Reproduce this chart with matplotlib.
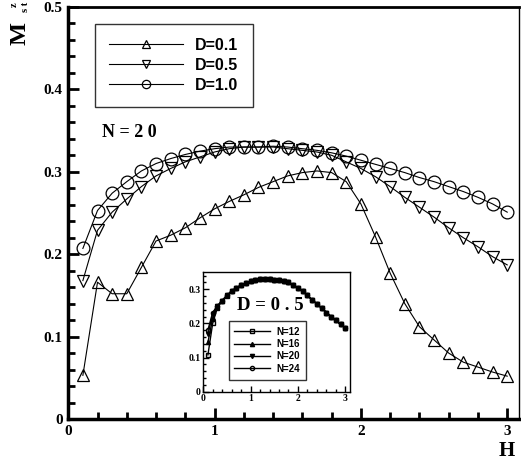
import matplotlib
matplotlib.use("Agg")
import matplotlib.pyplot as plt
from matplotlib.ticker import MultipleLocator, FormatStrFormatter

H = [round(0.1 * i, 1) for i in range(1, 31)]

d01 = [0.053, 0.166, 0.152, 0.152, 0.184, 0.216, 0.223, 0.232, 0.244, 0.255,
       0.264, 0.272, 0.281, 0.288, 0.295, 0.299, 0.301, 0.299, 0.288, 0.261,
       0.221, 0.177, 0.140, 0.112, 0.096, 0.080, 0.069, 0.063, 0.057, 0.052]
d05 = [0.168, 0.229, 0.251, 0.267, 0.282, 0.295, 0.304, 0.312, 0.318, 0.324,
       0.328, 0.330, 0.330, 0.330, 0.328, 0.326, 0.324, 0.320, 0.312, 0.304,
       0.294, 0.282, 0.269, 0.257, 0.245, 0.232, 0.220, 0.209, 0.197, 0.187]
d10 = [0.207, 0.253, 0.274, 0.288, 0.301, 0.310, 0.316, 0.321, 0.325, 0.328,
       0.330, 0.330, 0.330, 0.331, 0.330, 0.328, 0.326, 0.323, 0.319, 0.314,
       0.309, 0.304, 0.299, 0.293, 0.288, 0.282, 0.276, 0.269, 0.261, 0.251]

n12 = [0.108, 0.200, 0.246, 0.266, 0.281, 0.294, 0.304, 0.312, 0.318, 0.324,
       0.328, 0.330, 0.330, 0.330, 0.328, 0.326, 0.324, 0.320, 0.312, 0.304,
       0.294, 0.282, 0.269, 0.257, 0.245, 0.232, 0.220, 0.209, 0.197, 0.187]
n16 = [0.145, 0.215, 0.249, 0.267, 0.282, 0.295, 0.304, 0.312, 0.318, 0.324,
       0.328, 0.330, 0.330, 0.330, 0.328, 0.326, 0.324, 0.320, 0.312, 0.304,
       0.294, 0.282, 0.269, 0.257, 0.245, 0.232, 0.220, 0.209, 0.197, 0.187]
n20 = d05
n24 = [0.181, 0.232, 0.252, 0.267, 0.282, 0.295, 0.304, 0.312, 0.318, 0.324,
       0.328, 0.330, 0.330, 0.330, 0.328, 0.326, 0.324, 0.320, 0.312, 0.304,
       0.294, 0.282, 0.269, 0.257, 0.245, 0.232, 0.220, 0.209, 0.197, 0.187]

serif = 'Liberation Serif'
sans = 'Liberation Sans'

fig = plt.figure(figsize=(5.21, 4.63), dpi=100)
ax = fig.add_axes([0.131, 0.095, 0.865, 0.890])

mk = dict(color='black', linewidth=0.8, markerfacecolor='none',
          markeredgecolor='black', markeredgewidth=0.9, markersize=9.2)
ax.plot(H, d01, marker='^', label='D=0.1', **mk)
ax.plot(H, d05, marker='v', label='D=0.5', **mk)
ax.plot(H, d10, marker='o', label='D=1.0', **mk)

ax.set_xlim(0, 3.08)
ax.set_ylim(0, 0.5)
ax.xaxis.set_major_locator(MultipleLocator(1))
ax.xaxis.set_minor_locator(MultipleLocator(0.2))
ax.yaxis.set_major_locator(MultipleLocator(0.1))
ax.yaxis.set_minor_locator(MultipleLocator(0.02))
ax.xaxis.set_major_formatter(FormatStrFormatter('%g'))
ax.yaxis.set_major_formatter(FormatStrFormatter('%g'))
ax.tick_params(which='both', direction='in', top=False, right=False, width=2, color='black')
ax.tick_params(which='major', length=8)
ax.tick_params(which='minor', length=5)
ax.tick_params(axis='both', labelsize=11, pad=4)
for lab in ax.get_xticklabels() + ax.get_yticklabels():
    lab.set_fontfamily(serif)
    lab.set_fontweight('bold')
ax.spines['left'].set_linewidth(2.5)
ax.spines['bottom'].set_linewidth(2.5)
ax.spines['top'].set_linewidth(2.0)
ax.spines['right'].set_linewidth(1.0)

leg = ax.legend(loc='upper left', bbox_to_anchor=(0.041, 0.979), frameon=True, fancybox=False,
                edgecolor='black', handlelength=4.6, borderpad=0.9, labelspacing=0.3,
                handletextpad=0.8, markerscale=0.65,
                prop={'family': sans, 'weight': 'bold', 'size': 11.5})
leg.get_frame().set_linewidth(1.0)

ax.text(0.23, 0.348, 'N = 2 0', fontfamily=serif, fontweight='bold', fontsize=13,
        ha='left', va='center')

fig.text(0.988, 0.025, 'H', fontfamily=serif, fontweight='bold', fontsize=15,
         ha='right', va='center')
# y label  M^z_{st}, rotated
fig.text(0.0384, 0.928, 'M', rotation=90, fontfamily=serif, fontweight='bold',
         fontsize=17.5, ha='center', va='center')
fig.text(0.027, 0.989, 'z', rotation=90, fontfamily=serif, fontweight='bold',
         fontsize=7.5, ha='center', va='center')
fig.text(0.049, 0.984, 's t', rotation=90, fontfamily=serif, fontweight='bold',
         fontsize=7.5, ha='center', va='center')

# inset
ins = fig.add_axes([0.390, 0.154, 0.282, 0.258])
imk = dict(color='black', linewidth=1.0, markeredgecolor='black', markersize=3)
ins.plot(H, n12, marker='s', markerfacecolor='none', label='N=12', **imk)
ins.plot(H, n16, marker='^', markerfacecolor='black', label='N=16', **imk)
ins.plot(H, n20, marker='v', markerfacecolor='black', label='N=20', **imk)
ins.plot(H, n24, marker='o', markerfacecolor='none', label='N=24', **imk)
ins.set_xlim(0, 3.1)
ins.set_ylim(0, 0.35)
ins.xaxis.set_major_locator(MultipleLocator(1))
ins.xaxis.set_minor_locator(MultipleLocator(0.2))
ins.yaxis.set_major_locator(MultipleLocator(0.1))
ins.yaxis.set_minor_locator(MultipleLocator(0.02))
ins.xaxis.set_major_formatter(FormatStrFormatter('%g'))
ins.yaxis.set_major_formatter(FormatStrFormatter('%g'))
ins.tick_params(which='both', direction='in', top=False, right=False, width=1)
ins.tick_params(which='major', length=4)
ins.tick_params(which='minor', length=2)
ins.tick_params(axis='both', labelsize=7, pad=2)
for lab in ins.get_xticklabels() + ins.get_yticklabels():
    lab.set_fontfamily(serif)
    lab.set_fontweight('bold')
for s in ins.spines.values():
    s.set_linewidth(1.0)
ileg = ins.legend(loc='lower left', bbox_to_anchor=(0.14, 0.06), frameon=True, fancybox=False,
                  edgecolor='black', handlelength=3.7, borderpad=0.6, labelspacing=0.25,
                  handletextpad=0.6, prop={'family': sans, 'weight': 'bold', 'size': 7})
ileg.get_frame().set_linewidth(1.0)
ins.text(0.71, 0.253, 'D = 0 . 5', fontfamily=serif, fontweight='bold', fontsize=13.5,
         ha='left', va='center')

fig.savefig('out.png', dpi=100)
